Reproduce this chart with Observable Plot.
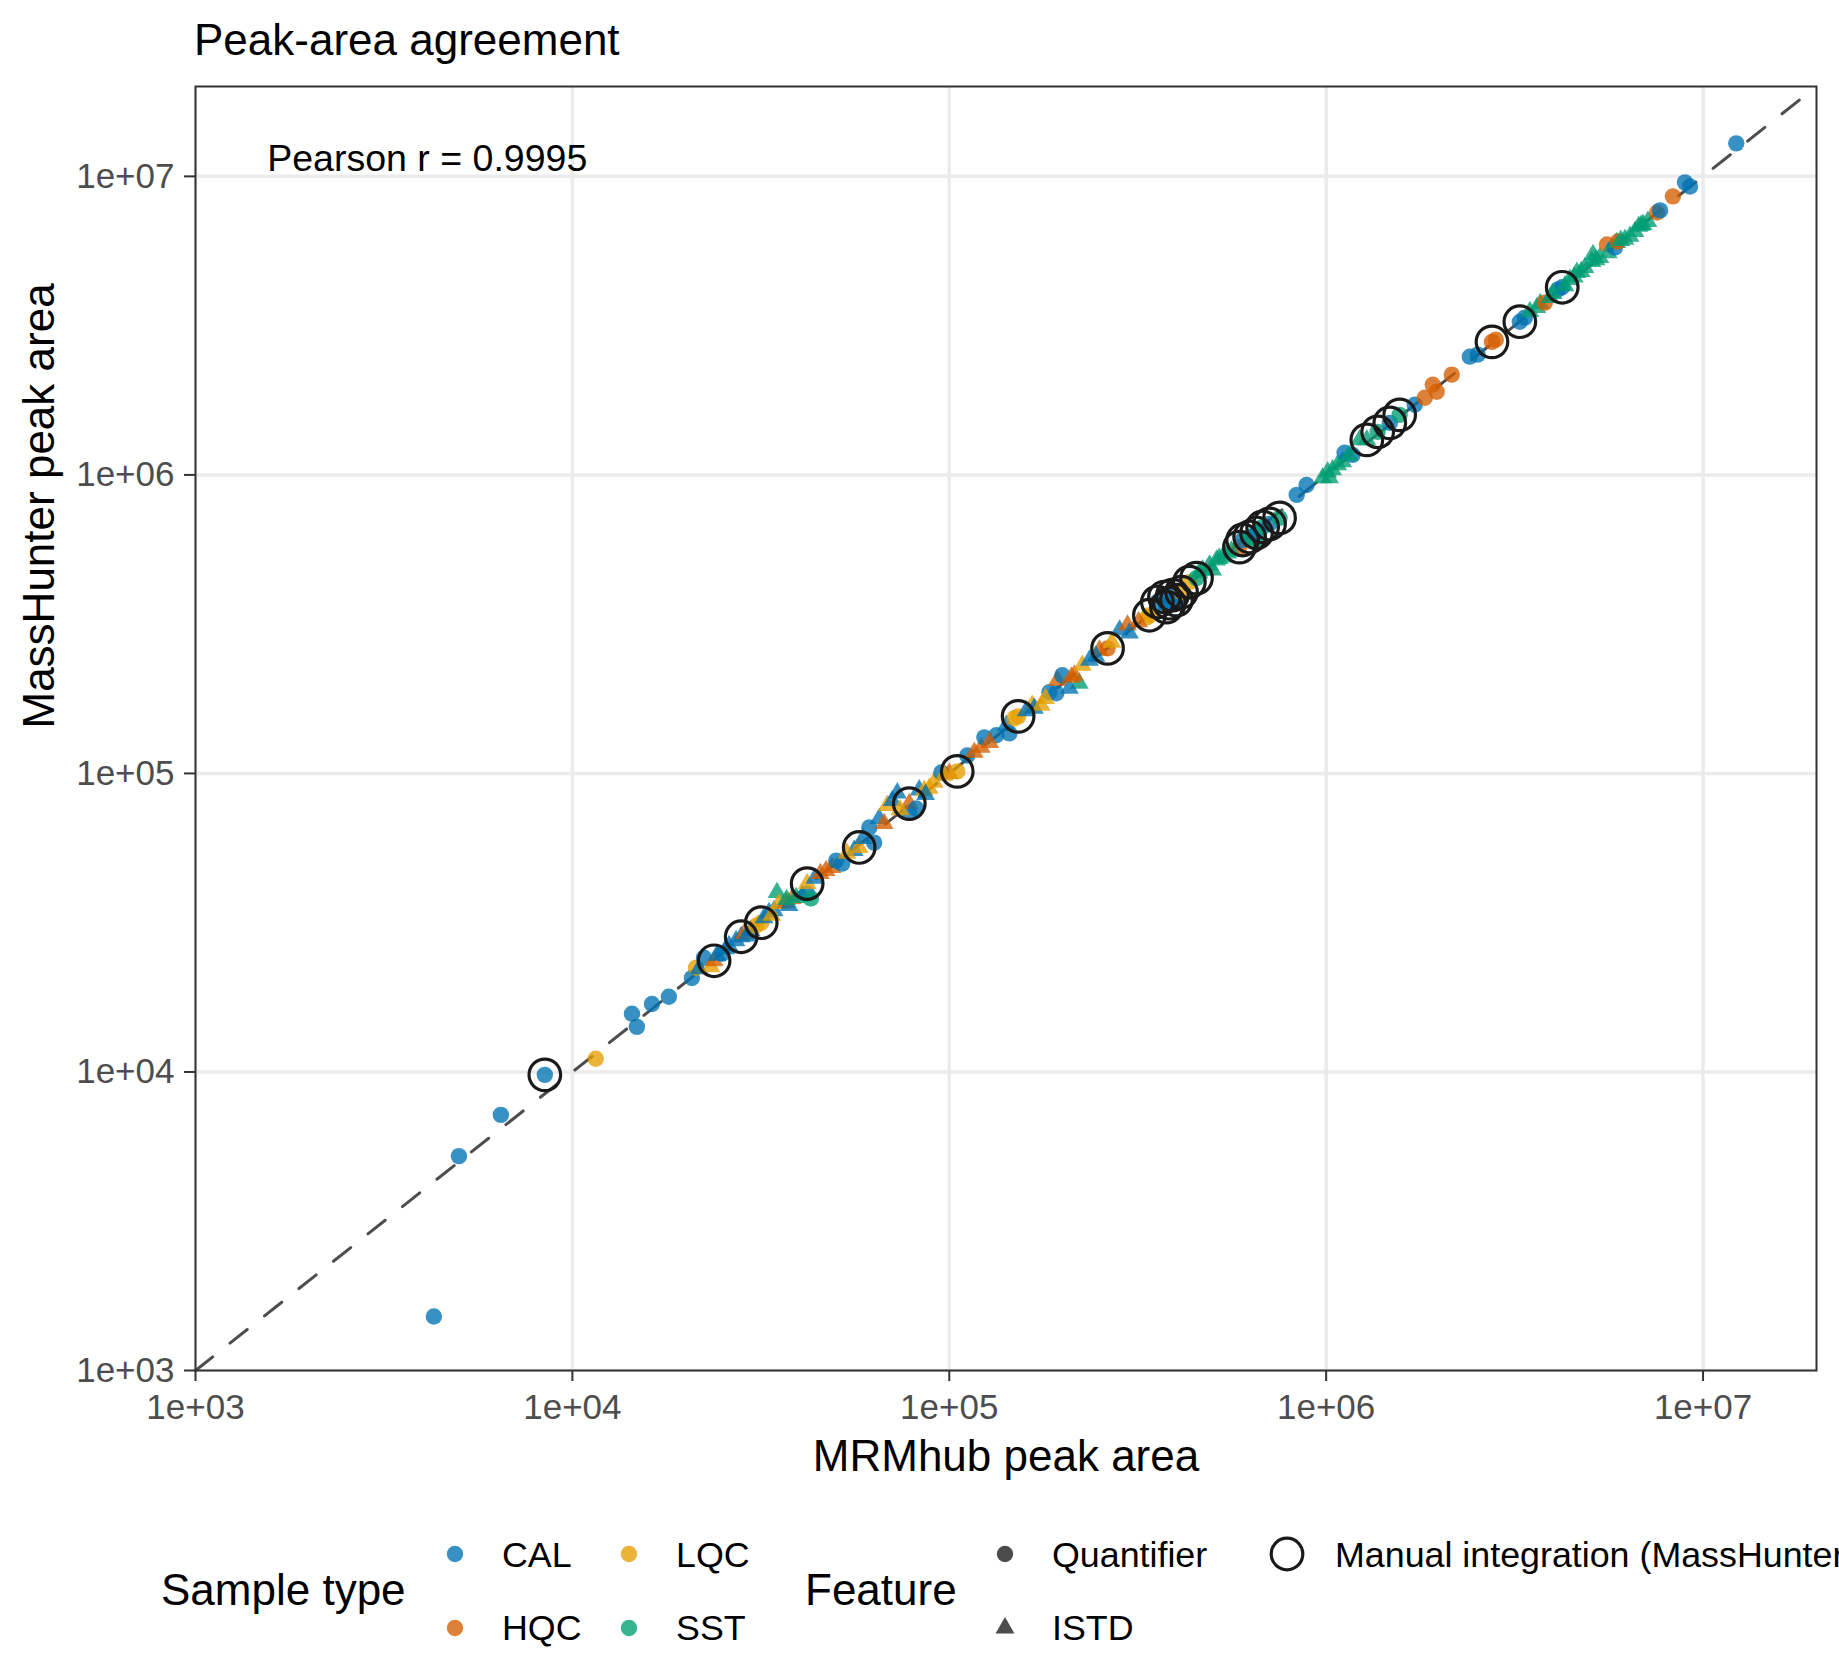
<!DOCTYPE html>
<html>
<head>
<meta charset="utf-8">
<script src="https://cdn.jsdelivr.net/npm/d3@7"></script>
<script src="https://cdn.jsdelivr.net/npm/@observablehq/plot@0.6"></script>
<style>
html, body { margin: 0; padding: 0; background: #fff; }
#wrap { width: 1839px; height: 1680px; overflow: hidden; background: #fff; }
#wrap svg { display: block; }
</style>
</head>
<body>
<div id="wrap"></div>
<script>
const FONT = '"Liberation Sans", Arial, Helvetica, sans-serif';

// ---- categories / scales ----
const sampleTypes = ["CAL", "HQC", "LQC", "SST"];
const typeColors = ["#0072B2", "#D55E00", "#E69F00", "#009E73"];
const features = ["Quantifier", "ISTD"];
const tickValues = [1e3, 1e4, 1e5, 1e6, 1e7];
const tickLabels = ["1e+03", "1e+04", "1e+05", "1e+06", "1e+07"];
const axisDomain = [1e3, 2e7];
const titleText = "Peak-area agreement";
const xTitle = "MRMhub peak area";
const yTitle = "MassHunter peak area";
const pearsonLabel = "Pearson r = 0.9995";
const pearsonAt = [1550, 1.14e7];
const manualLabel = "Manual integration (MassHunter)";

// ---- data ----
const mrmhub = [
  4290, 5000, 6460, 8450, 11530, 14390, 14830, 16260, 18030, 20750,
  21280, 21680, 22350, 23330, 23770, 24950, 25560, 26040, 27180, 28050,
  28560, 29790, 30710, 31700, 32250, 33250, 34290, 34900, 35340, 36900,
  37580, 38290, 39240, 40710, 41970, 41970, 42950, 47120, 48890, 50120,
  51980, 55940, 57680, 61340, 63190, 65160, 67190, 68430, 70590, 72800,
  78260, 78330, 81700, 83240, 85840, 88490, 91200, 95250, 100000, 105000,
  111600, 116500, 121600, 123900, 133300, 141700, 144300, 148800, 152300, 166000,
  168200, 175400, 184400, 192300, 193600, 199500, 221300, 208400, 210900, 214800,
  225500, 235500, 250300, 263000, 283100, 297000, 300600, 335700, 339600, 356600,
  372400, 377000, 383900, 391000, 400700, 413200, 433600, 452900, 469900, 490500,
  499700, 512100, 531000, 547200, 589000, 600300, 626600, 653600, 653600, 678300,
  707600, 752200, 835300, 887300, 979000, 1009000, 1021000, 1040000, 1073000, 1106000,
  1119000, 1175000, 1227000, 1282000, 1370000, 1475000, 1567000, 1718000, 1827000, 1918000,
  1965000, 2154000, 2405000, 2524000, 2754000, 2819000, 3265000, 3366000, 3472000, 3624000,
  3700000, 3804000, 3924000, 4120000, 4230000, 4300000, 4434000, 4626000, 4750000, 4860000,
  5072000, 5105000, 5324000, 5560000, 5600000, 5838000, 5900000, 5945000, 6207000, 6400000,
  6596000, 6750000, 6932000, 7139000, 7551000, 7691000, 8318000, 8954000, 9234000, 12250000,
  24200, 29000, 33800, 37000, 44000, 45500, 53500, 59000, 74000, 86500,
  97000, 128000, 160000, 180000, 245000, 270000, 318000, 460000, 520000, 560000,
  1150000, 4000000, 4550000, 5200000, 6050000, 6850000
];
const masshunter = [
  1517, 5225, 7180, 9780, 11070, 15670, 14160, 16900, 17870, 20650,
  22340, 22170, 24140, 22500, 23570, 24890, 25870, 26470, 27520, 28380,
  29040, 29720, 30900, 31620, 32850, 34180, 34680, 39900, 36620, 36900,
  36060, 38100, 38370, 38980, 39550, 42760, 38100, 47240, 48370, 51050,
  49890, 55190, 56500, 65870, 58650, 70630, 67950, 78110, 81150, 86000,
  73960, 79240, 76300, 88000, 87700, 89100, 93300, 100700, 100000, 101600,
  114900, 117600, 122300, 132100, 134200, 144900, 136200, 153000, 155300, 169100,
  165200, 169100, 187000, 185500, 205100, 213300, 200400, 192800, 209900, 213300,
  230300, 239400, 258700, 262300, 302000, 314000, 295100, 333600, 338700, 375000,
  389800, 360600, 371700, 395500, 380700, 404900, 437500, 451100, 479700, 498900,
  479700, 518300, 530700, 547100, 573000, 605300, 619500, 591000, 638700, 669600,
  685100, 717800, 857000, 925500, 977500, 1023000, 977500, 1040000, 1081000, 1106000,
  1186000, 1167000, 1310000, 1310000, 1394000, 1494000, 1589000, 1718000, 1813000, 2004000,
  1900000, 2167000, 2489000, 2528000, 2790000, 2838000, 3260000, 3365000, 3524000, 3632000,
  3750000, 3777000, 3926000, 4178000, 4250000, 4300000, 4510000, 4764000, 4800000, 4951000,
  5188000, 5470000, 5346000, 5916000, 5550000, 5781000, 6000000, 6052000, 6150000, 6300000,
  6531000, 6800000, 6902000, 7063000, 7568000, 7691000, 8570000, 9550000, 9250000, 12900000,
  24600, 28500, 33500, 37800, 44500, 46200, 54000, 60500, 75500, 85000,
  98500, 127000, 162000, 178000, 247000, 275000, 322000, 470000, 525000, 555000,
  1160000, 4050000, 4600000, 5250000, 6100000, 6850000
];
const sampleType = [
  "CAL","CAL","CAL","CAL","LQC","CAL","CAL","CAL","CAL","CAL",
  "LQC","CAL","CAL","LQC","HQC","CAL","CAL","CAL","CAL","CAL",
  "HQC","CAL","LQC","LQC","CAL","CAL","CAL","SST","LQC","HQC",
  "CAL","HQC","SST","SST","CAL","LQC","SST","HQC","HQC","CAL",
  "CAL","CAL","LQC","CAL","CAL","CAL","HQC","LQC","CAL","CAL",
  "CAL","HQC","CAL","CAL","LQC","LQC","LQC","CAL","HQC","LQC",
  "CAL","HQC","HQC","CAL","CAL","CAL","CAL","LQC","LQC","LQC",
  "CAL","LQC","CAL","CAL","HQC","CAL","SST","CAL","HQC","HQC",
  "LQC","CAL","HQC","HQC","CAL","HQC","CAL","LQC","LQC","CAL",
  "CAL","CAL","CAL","CAL","CAL","LQC","LQC","SST","SST","SST",
  "SST","SST","SST","SST","HQC","CAL","SST","SST","CAL","SST",
  "CAL","SST","CAL","CAL","SST","SST","SST","SST","SST","SST",
  "CAL","CAL","SST","SST","SST","CAL","SST","CAL","HQC","HQC",
  "HQC","HQC","CAL","CAL","HQC","HQC","CAL","CAL","SST","SST",
  "SST","HQC","SST","CAL","CAL","SST","SST","SST","SST","SST",
  "SST","SST","SST","HQC","SST","CAL","SST","HQC","SST","SST",
  "SST","SST","SST","SST","HQC","CAL","HQC","CAL","CAL","CAL",
  "CAL","CAL","LQC","SST","CAL","HQC","LQC","CAL","LQC","CAL",
  "LQC","HQC","CAL","LQC","CAL","LQC","HQC","SST","SST","SST",
  "SST","SST","SST","SST","SST","SST"
];
// Q = Quantifier, I = ISTD
const feature = [
  "Q","Q","Q","Q","Q","Q","Q","Q","Q","Q",
  "Q","I","Q","I","I","Q","I","I","I","I",
  "I","I","Q","Q","I","I","I","I","I","I",
  "I","I","I","I","Q","I","Q","I","I","Q",
  "Q","I","I","Q","Q","I","I","I","I","I",
  "Q","I","Q","I","I","I","I","Q","I","Q",
  "Q","I","I","Q","Q","I","Q","Q","Q","I",
  "I","I","Q","Q","I","Q","I","I","I","I",
  "I","I","I","Q","I","I","I","Q","Q","Q",
  "Q","Q","Q","Q","Q","Q","Q","Q","I","I",
  "I","I","I","I","Q","Q","Q","Q","Q","Q",
  "Q","Q","Q","Q","I","I","I","I","I","I",
  "Q","Q","I","I","Q","Q","Q","Q","Q","Q",
  "Q","Q","Q","Q","Q","Q","Q","Q","I","I",
  "I","Q","I","Q","Q","I","I","I","I","I",
  "I","I","I","Q","I","Q","I","Q","I","I",
  "I","I","I","I","Q","Q","Q","Q","Q","Q",
  "I","I","I","I","I","I","I","I","I","I",
  "I","I","I","I","I","I","I","I","I","I",
  "I","I","I","I","I","I"
];
// 1 = manual integration in MassHunter
const manual = [
  0,0,0,1,0,0,0,0,0,0,
  0,0,0,0,1,0,0,0,0,1,
  0,0,0,1,0,0,0,0,0,0,
  0,0,0,0,0,1,0,0,0,0,
  0,0,1,0,0,0,0,0,0,0,
  0,1,0,0,0,0,0,0,0,1,
  0,0,0,0,0,0,0,0,1,0,
  0,0,0,0,0,0,0,0,0,0,
  0,0,0,1,0,0,0,0,1,1,
  1,1,1,1,1,1,1,1,0,0,
  0,0,0,0,1,1,1,0,1,1,
  1,1,0,0,0,0,0,0,0,0,
  0,0,0,1,1,1,1,0,0,0,
  0,0,0,0,1,0,1,0,0,0,
  0,0,0,0,1,0,0,0,0,0,
  0,0,0,0,0,0,0,0,0,0,
  0,0,0,0,0,0,0,0,0,0,
  0,0,0,0,0,0,0,0,0,0,
  0,0,0,0,0,0,0,0,0,0,
  0,0,0,0,0,0
];

const featureName = {Q: "Quantifier", I: "ISTD"};
const points = mrmhub.map((x, i) => ({
  x, y: masshunter[i], type: sampleType[i],
  feature: featureName[feature[i]], manual: manual[i] === 1
}));
const tickLabelOf = new Map(tickValues.map((v, i) => [v, tickLabels[i]]));

const DOT_R = 8.2, TRI_R = 7, MANUAL_R = 15.8, ALPHA = 0.78;
const wrap = document.getElementById("wrap");

// ---- title ----
const head = d3.create("svg").attr("width", 1839).attr("height", 70);
head.append("text").attr("x", 194).attr("y", 55)
  .attr("font-family", FONT).attr("font-size", 44).attr("fill", "#000")
  .text(titleText);
wrap.appendChild(head.node());

// ---- chart ----
const chart = Plot.plot({
  width: 1839,
  height: 1410,
  marginLeft: 195,
  marginRight: 23,
  marginTop: 16,
  marginBottom: 110,
  style: {fontFamily: FONT, fontSize: "35px", background: "#fff", overflow: "visible"},
  x: {type: "log", domain: axisDomain},
  y: {type: "log", domain: axisDomain},
  color: {domain: sampleTypes, range: typeColors},
  symbol: {domain: features, range: ["circle", "triangle"]},
  r: {type: "identity"},
  marks: [
    Plot.gridX(tickValues, {stroke: "#EBEBEB", strokeOpacity: 1, strokeWidth: 3.5}),
    Plot.gridY(tickValues, {stroke: "#EBEBEB", strokeOpacity: 1, strokeWidth: 3.5}),
    Plot.line(axisDomain, {x: d => d, y: d => d, stroke: "#4D4D4D", strokeWidth: 3, strokeDasharray: "22,22"}),
    Plot.dot(points, {
      x: "x", y: "y", fill: "type", symbol: "feature",
      r: d => d.feature === "ISTD" ? TRI_R : DOT_R,
      fillOpacity: ALPHA, stroke: "none", sort: null
    }),
    Plot.dot(points.filter(d => d.manual), {
      x: "x", y: "y", r: MANUAL_R, fill: "none", stroke: "#1A1A1A", strokeWidth: 3.2
    }),
    Plot.text([pearsonLabel], {
      x: () => pearsonAt[0], y: () => pearsonAt[1], text: d => d,
      textAnchor: "start", lineAnchor: "middle", fontSize: 37.5, fill: "#000"
    }),
    Plot.frame({stroke: "#333333", strokeWidth: 2}),
    Plot.axisX(tickValues, {
      tickFormat: d => tickLabelOf.get(d), tickSize: 11, tickPadding: 13,
      fontSize: 35, stroke: "#333333", fill: "#4D4D4D", strokeWidth: 2, label: null
    }),
    Plot.axisY(tickValues, {
      tickFormat: d => tickLabelOf.get(d), tickSize: 11, tickPadding: 10,
      fontSize: 35, stroke: "#333333", fill: "#4D4D4D", strokeWidth: 2, label: null
    }),
    Plot.text([xTitle], {text: d => d, frameAnchor: "bottom", dy: 100, lineAnchor: "bottom", fontSize: 44, fill: "#000"}),
    Plot.text([yTitle], {text: d => d, frameAnchor: "left", dx: -142, rotate: -90, lineAnchor: "bottom", fontSize: 44, fill: "#000"})
  ]
});
wrap.appendChild(chart);

// ---- legend ----
const LEG_FS = 35.8;
const leg = d3.create("svg").attr("width", 1839).attr("height", 200)
  .attr("font-family", FONT);
const rowY = [74, 148], rowBase = [87, 160];
leg.append("text").attr("x", 161).attr("y", 125).attr("font-size", 44).attr("fill", "#000").text("Sample type");
const keyX = [455, 629], labX = [502, 676];
sampleTypes.forEach((t, i) => {
  const col = Math.floor(i / 2), row = i % 2;
  leg.append("circle").attr("cx", keyX[col]).attr("cy", rowY[row]).attr("r", DOT_R)
    .attr("fill", typeColors[i]).attr("fill-opacity", ALPHA);
  leg.append("text").attr("x", labX[col]).attr("y", rowBase[row]).attr("font-size", LEG_FS).attr("fill", "#000").text(t);
});
leg.append("text").attr("x", 805).attr("y", 125).attr("font-size", 44).attr("fill", "#000").text("Feature");
leg.append("circle").attr("cx", 1005).attr("cy", rowY[0]).attr("r", DOT_R).attr("fill", "#000").attr("fill-opacity", 0.7);
leg.append("path").attr("transform", `translate(1005,${rowY[1]})`)
  .attr("d", d3.symbol(d3.symbolTriangle, Math.PI * TRI_R * TRI_R)())
  .attr("fill", "#000").attr("fill-opacity", 0.7);
leg.append("text").attr("x", 1052).attr("y", rowBase[0]).attr("font-size", LEG_FS).attr("fill", "#000").text(features[0]);
leg.append("text").attr("x", 1052).attr("y", rowBase[1]).attr("font-size", LEG_FS).attr("fill", "#000").text(features[1]);
leg.append("circle").attr("cx", 1287).attr("cy", rowY[0]).attr("r", MANUAL_R)
  .attr("fill", "none").attr("stroke", "#1A1A1A").attr("stroke-width", 3.2);
leg.append("text").attr("x", 1335).attr("y", rowBase[0]).attr("font-size", LEG_FS).attr("fill", "#000").text(manualLabel);
wrap.appendChild(leg.node());
</script>
</body>
</html>
